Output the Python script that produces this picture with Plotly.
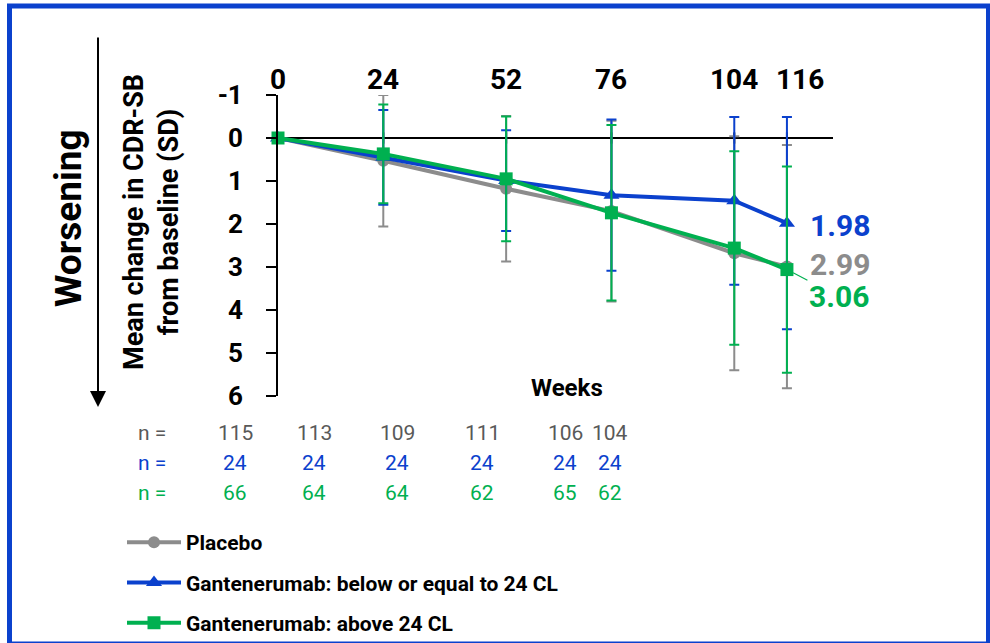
import plotly.graph_objects as go

# ---- data -------------------------------------------------------------
weeks = [0, 24, 52, 76, 104, 116]

placebo_mean = [0, 0.53, 1.18, 1.70, 2.68, 2.99]
placebo_sd = [0, 1.53, 1.69, 2.10, 2.72, 2.83]

low_mean = [0, 0.45, 0.99, 1.33, 1.46, 1.98]
low_sd = [0, 1.10, 1.17, 1.76, 1.95, 2.47]

high_mean = [0, 0.37, 0.95, 1.74, 2.56, 3.06]
high_sd = [0, 1.15, 1.45, 2.04, 2.25, 2.40]

n_placebo = [115, 113, 109, 111, 106, 104]
n_low = [24, 24, 24, 24, 24, 24]
n_high = [66, 64, 64, 62, 65, 62]

series_names = [
    "Placebo",
    "Gantenerumab: below or equal to 24 CL",
    "Gantenerumab: above 24 CL",
]
y_ticks = [-1, 0, 1, 2, 3, 4, 5, 6]

# ---- styling ----------------------------------------------------------
GRAY = "#8c8c8c"
BLUE = "#0b41cd"
GREEN = "#00b050"
N_GRAY = "#595959"
FONT = "Roboto"

W, H = 990, 643
PL, PR, PT, PB = 278, 833, 95, 396  # plot area in pixels


def px(x):
    return (x - PL) / (PR - PL)


def py(y):
    return (PB - y) / (PB - PT)


def paper_text(xpix, ypix, text, font, **kw):
    d = dict(xref="paper", yref="paper", x=px(xpix), y=py(ypix), text=text,
             showarrow=False, xanchor="center", yanchor="middle", font=font)
    d.update(kw)
    return d


fig = go.Figure()

# small tick marks along the zero line
fig.add_trace(go.Scatter(
    x=weeks, y=[0] * len(weeks), mode="markers",
    marker=dict(symbol="line-ns", size=8, line=dict(color="black", width=2)),
    hoverinfo="skip", showlegend=False, cliponaxis=False,
))

groups = [
    (series_names[0], placebo_mean, placebo_sd, GRAY, "circle", 12),
    (series_names[1], low_mean, low_sd, BLUE, "triangle-up", 14),
    (series_names[2], high_mean, high_sd, GREEN, "square", 13),
]
for name, mean, sd, color, symbol, size in groups:
    fig.add_trace(go.Scatter(
        x=weeks, y=mean, name=name, legendgroup=name,
        mode="lines+markers",
        line=dict(color=color, width=4),
        marker=dict(symbol=symbol, size=size, color=color),
        error_y=dict(type="data", array=sd, visible=True,
                     color=color, thickness=2, width=5),
        cliponaxis=False,
    ))

annotations = []

# week labels above the plot (the last one nudged right to clear "104")
for i, w in enumerate(weeks):
    annotations.append(dict(
        x=w, xref="x", yref="paper", y=py(79), text=f"<b>{w}</b>",
        showarrow=False, xanchor="center", yanchor="middle",
        xshift=13 if i == len(weeks) - 1 else 0,
        font=dict(family=FONT, size=28, color="black")))

# final values at week 116
annotations.append(dict(
    x=weeks[-1], y=low_mean[-1], text=f"<b>{low_mean[-1]:.2f}</b>",
    showarrow=False, xanchor="left", yanchor="middle", xshift=21, yshift=-2,
    font=dict(family=FONT, size=30, color=BLUE)))
annotations.append(dict(
    x=weeks[-1], y=placebo_mean[-1], text=f"<b>{placebo_mean[-1]:.2f}</b>",
    showarrow=False, xanchor="left", yanchor="middle", xshift=21, yshift=2,
    font=dict(family=FONT, size=30, color=GRAY)))
annotations.append(dict(
    x=weeks[-1], y=high_mean[-1], text=f"<b>{high_mean[-1]:.2f}</b>",
    showarrow=True, arrowhead=0, arrowwidth=1.2, arrowcolor=GREEN,
    ax=52, ay=27, standoff=7,
    font=dict(family=FONT, size=30, color=GREEN)))

# axis labels
annotations.append(paper_text(
    567, 388, "<b>Weeks</b>", dict(family=FONT, size=24, color="black")))
annotations.append(paper_text(
    151, 222, "<b>Mean change in CDR-SB<br>from baseline (SD)</b>",
    dict(family=FONT, size=27, color="black"), textangle=-90))
annotations.append(paper_text(
    68, 218, "<b>Worsening</b>",
    dict(family=FONT, size=37, color="black"), textangle=-90))
# downward arrow
annotations.append(dict(
    xref="paper", yref="paper", x=px(98), y=py(407),
    axref="pixel", ayref="pixel", ax=0, ay=-371, text="",
    showarrow=True, arrowhead=2, arrowsize=1.6, arrowwidth=2,
    arrowcolor="black"))

# n at risk table
n_col_px = [235, 314, 397, 482, 565, 610]
n_rows = [(n_placebo, N_GRAY, 433), (n_low, BLUE, 463), (n_high, GREEN, 493)]
for values, color, ypix in n_rows:
    font = dict(family=FONT, size=21, color=color)
    annotations.append(paper_text(152, ypix, "n =", font))
    for v, xpix in zip(values, n_col_px):
        annotations.append(paper_text(xpix, ypix, str(v), font))

fig.update_layout(
    width=W, height=H,
    margin=dict(l=PL, r=W - PR, t=PT, b=H - PB, pad=0, autoexpand=False),
    paper_bgcolor="white", plot_bgcolor="white",
    showlegend=True,
    legend=dict(
        x=px(122), y=py(522), xanchor="left", yanchor="top",
        traceorder="grouped", tracegroupgap=10, itemwidth=54,
        font=dict(family=FONT, size=21, color="black", weight="bold"),
        bgcolor="rgba(0,0,0,0)",
    ),
    xaxis=dict(
        range=[0, 126.5], tickvals=weeks, showticklabels=False,
        showgrid=False, zeroline=False, showline=False, ticks="",
    ),
    yaxis=dict(
        range=[6, -1], tickvals=y_ticks,
        ticktext=[f"<b>{t}</b>" for t in y_ticks],
        showgrid=False, zeroline=True, zerolinecolor="black", zerolinewidth=2,
        showline=True, linecolor="black", linewidth=2,
        ticks="outside", ticklen=10, tickwidth=2, tickcolor="black",
        tickfont=dict(family=FONT, size=26, color="black"),
        ticklabelstandoff=18,
    ),
    annotations=annotations,
    shapes=[dict(
        type="rect", xref="paper", yref="paper",
        x0=px(9.5), x1=px(988.5), y0=py(644), y1=py(6),
        line=dict(color=BLUE, width=5), fillcolor="rgba(0,0,0,0)",
    )],
)

fig.write_html("out.html")
